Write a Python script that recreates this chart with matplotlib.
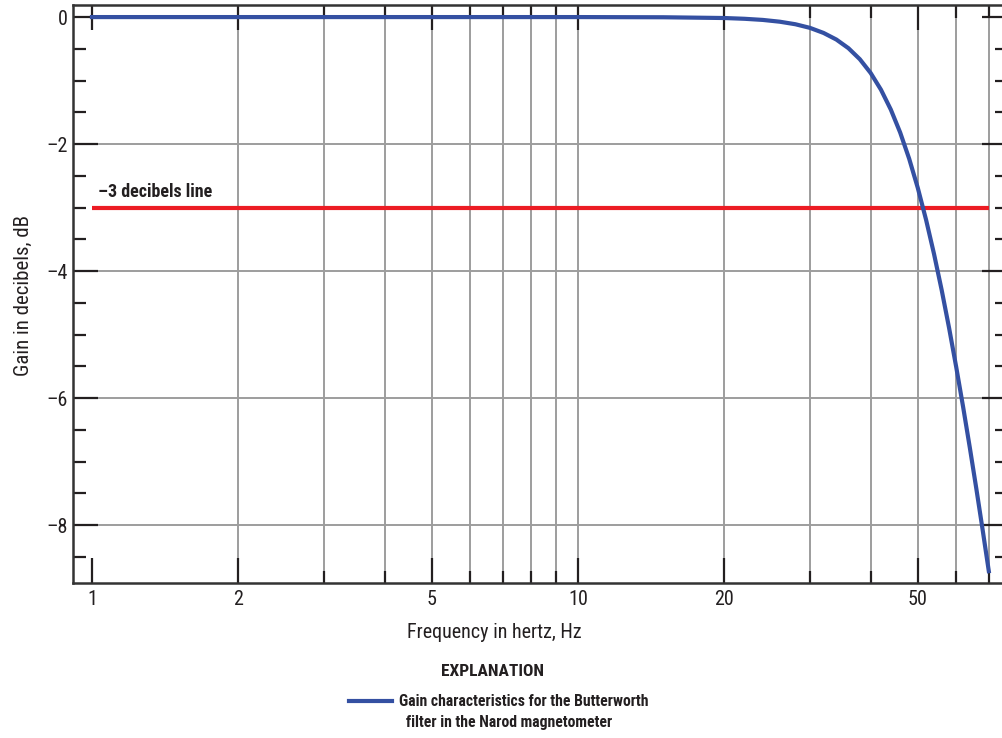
import matplotlib
matplotlib.use("Agg")
import matplotlib.pyplot as plt
from matplotlib.ticker import FixedLocator, NullFormatter, FixedFormatter

plt.rcParams['font.family'] = ['Roboto Condensed', 'Archivo Narrow', 'DejaVu Sans']

# Gain curve (Butterworth filter, Narod magnetometer)
freq_hz = [1, 5, 10, 15, 20, 22, 24, 26, 28, 30, 32, 34, 36, 38, 40, 42, 44, 46, 48,
           50, 52, 54, 56, 58, 60, 62, 64, 66, 68, 70]
gain_db = [0.0, 0.0, 0.0, -0.003, -0.015, -0.027, -0.045, -0.073, -0.113, -0.17,
           -0.25, -0.354, -0.49, -0.664, -0.881, -1.144, -1.456, -1.818, -2.23,
           -2.689, -3.191, -3.73, -4.30, -4.897, -5.515, -6.145, -6.786, -7.431,
           -8.078, -8.724]
ref_level = -3.0

x_major = [1, 2, 5, 10, 20, 50]
x_minor = [3, 4, 6, 7, 8, 9, 30, 40, 60, 70]
x_grid = [2, 3, 4, 5, 6, 7, 8, 9, 10, 20, 30, 40, 50, 60, 70]
y_major = [0, -2, -4, -6, -8]
y_minor = [-0.5, -1, -1.5, -2.5, -3, -3.5, -4.5, -5, -5.5, -6.5, -7, -7.5, -8.5]

W, H = 1002, 738
ink = '#231f20'
fig = plt.figure(figsize=(W / 100, H / 100), dpi=100)
ax = fig.add_axes([73 / W, 1 - 583 / H, (1007 - 73) / W, (583 - 5) / H])

ax.set_xscale('log')
ax.set_xlim(0.914, 76.3)
ax.set_ylim(-8.91, 0.19)

grid_kw = dict(color='#9d9d9d', linewidth=1.4, zorder=1)
for v in x_grid:
    ax.axvline(v, **grid_kw)
for v in y_major[1:]:
    ax.axhline(v, **grid_kw)

ax.plot([freq_hz[0], freq_hz[-1]], [ref_level, ref_level], color='#ec1c24', linewidth=3.0,
        solid_capstyle='butt', zorder=3)
ax.plot(freq_hz, gain_db, color='#3450a2', linewidth=3.0, zorder=4)

ax.text(1.03, ref_level + 0.1, '\u20133 decibels line', fontsize=13, fontweight='bold',
        color=ink, va='bottom', ha='left')

ax.xaxis.set_major_locator(FixedLocator(x_major))
ax.xaxis.set_major_formatter(FixedFormatter([str(v) for v in x_major]))
ax.xaxis.set_minor_locator(FixedLocator(x_minor))
ax.xaxis.set_minor_formatter(NullFormatter())
ax.yaxis.set_major_locator(FixedLocator(y_major))
ax.yaxis.set_major_formatter(FixedFormatter(['0' if v == 0 else '\u2013' + str(-v) for v in y_major]))
ax.yaxis.set_minor_locator(FixedLocator(y_minor))

ax.tick_params(which='both', direction='in', top=True, right=True, colors=ink,
               labelsize=14.5, width=1.6)
ax.tick_params(which='major', length=18, pad=4)
ax.tick_params(which='minor', length=9)
ax.tick_params(axis='x', which='major', pad=5)

for s in ax.spines.values():
    s.set_color('#333333')
    s.set_linewidth(1.8)

fig.text(23 / W, 1 - 295 / H, 'Gain in decibels, dB', rotation=90, fontsize=15,
         ha='center', va='center', color=ink)
fig.text(494 / W, 1 - 632 / H, 'Frequency in hertz, Hz', fontsize=14.5,
         ha='center', va='center', color=ink)
fig.text(493 / W, 1 - 671 / H, 'EXPLANATION', fontsize=12.5, fontweight='bold',
         ha='center', va='center', color=ink)
fig.add_artist(plt.Line2D([349 / W, 392 / W], [1 - 701 / H, 1 - 701 / H],
                          color='#3450a2', linewidth=3.0, transform=fig.transFigure))
fig.text(399 / W, 1 - 701 / H, 'Gain characteristics for the Butterworth', fontsize=11.3,
         fontweight='bold', ha='left', va='center', color=ink)
fig.text(406 / W, 1 - 723 / H, 'filter in the Narod magnetometer', fontsize=11.3,
         fontweight='bold', ha='left', va='center', color=ink)

fig.savefig('out.png', dpi=100)
